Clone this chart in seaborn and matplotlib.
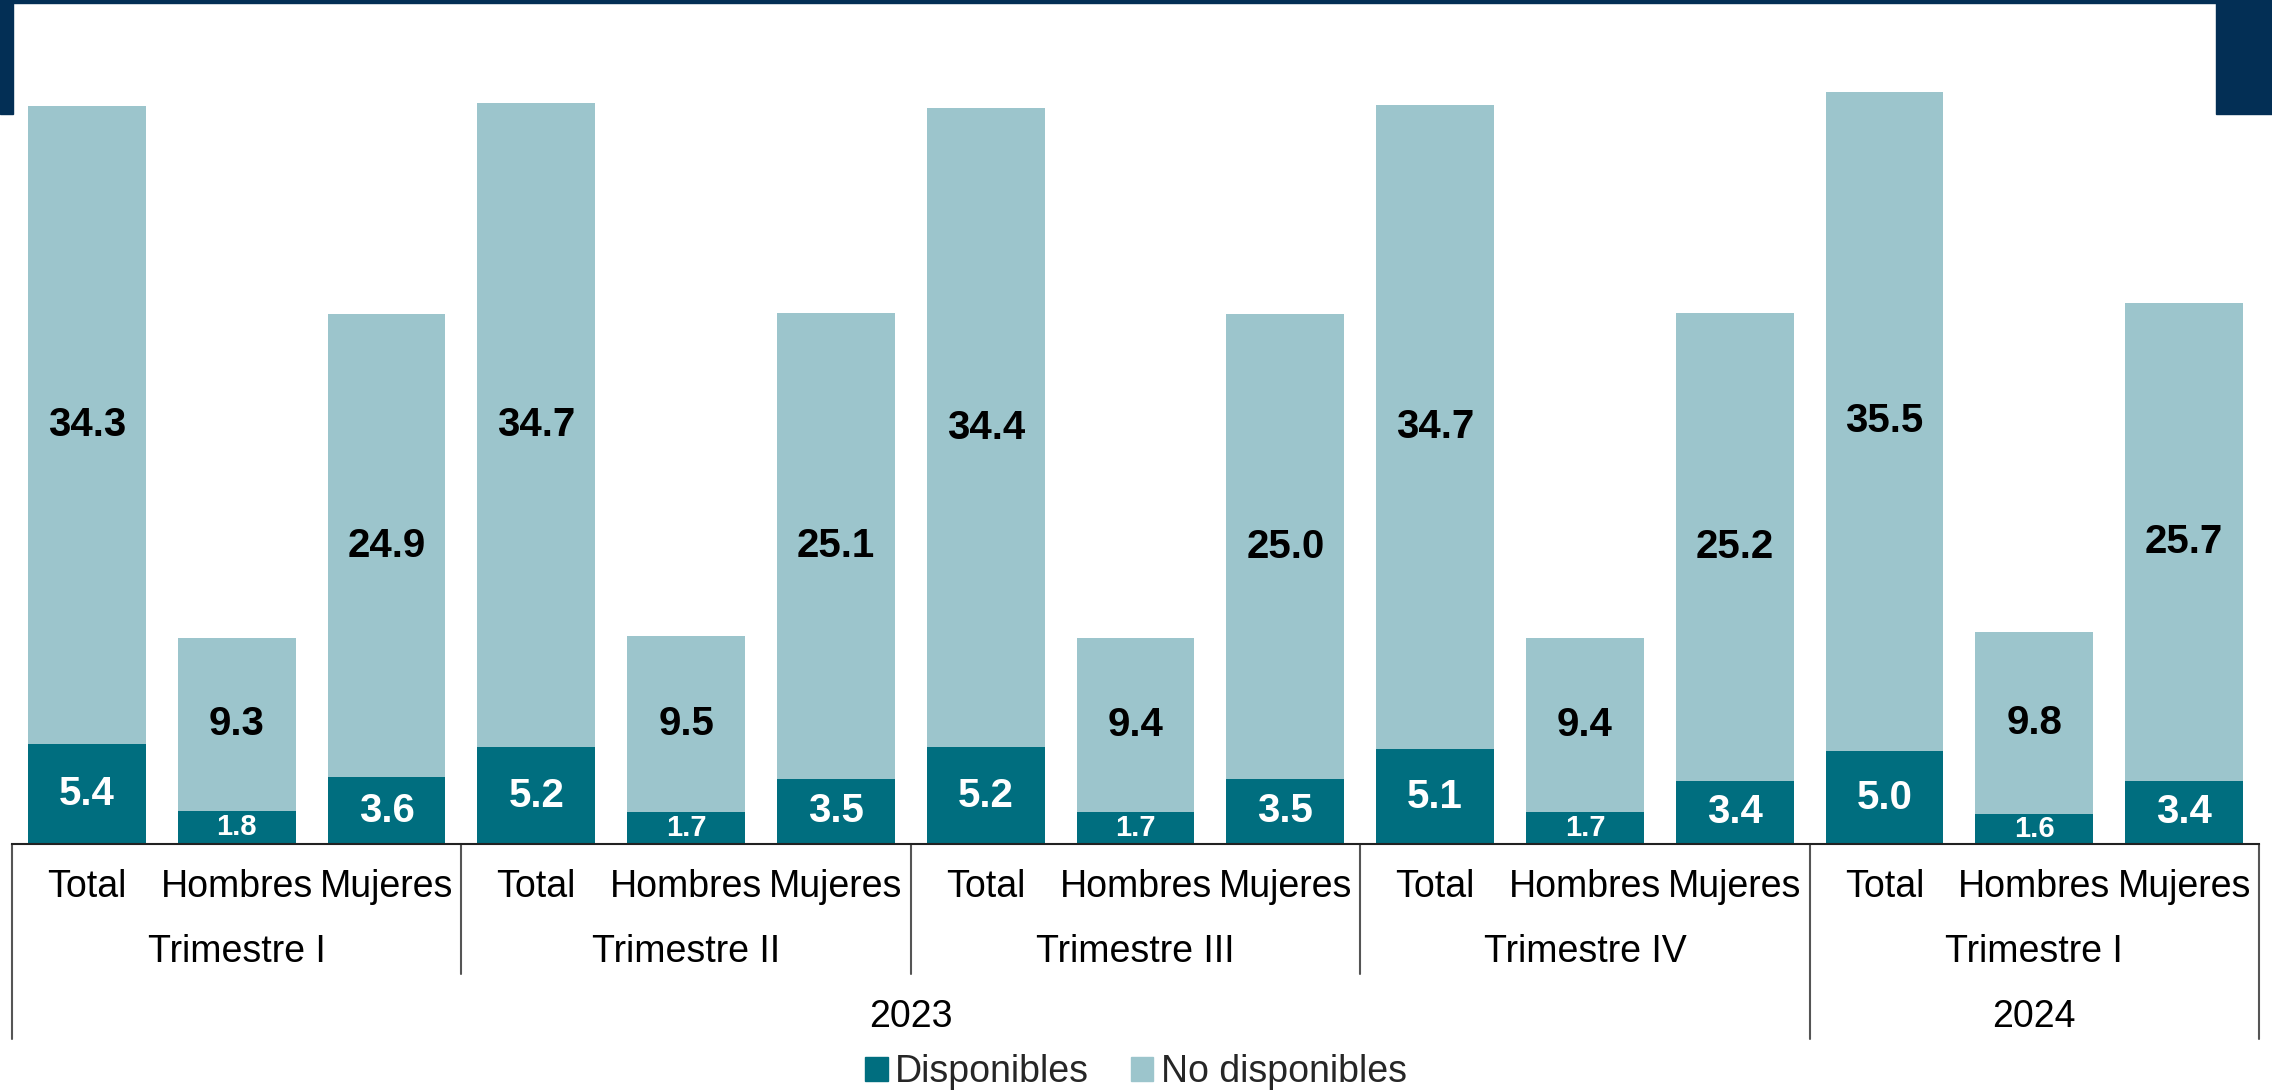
import matplotlib
matplotlib.use("Agg")
import matplotlib.pyplot as plt
import matplotlib.patches as mpatches
import matplotlib.transforms as mtransforms
import seaborn as sns
import pandas as pd

# Datos
anios = ["2023", "2023", "2023", "2023", "2024"]
trimestres = ["Trimestre I", "Trimestre II", "Trimestre III", "Trimestre IV", "Trimestre I"]
categorias = ["Total", "Hombres", "Mujeres"]

disponibles = [5.4, 1.8, 3.6,
               5.2, 1.7, 3.5,
               5.2, 1.7, 3.5,
               5.1, 1.7, 3.4,
               5.0, 1.6, 3.4]
no_disponibles = [34.3, 9.3, 24.9,
                  34.7, 9.5, 25.1,
                  34.4, 9.4, 25.0,
                  34.7, 9.4, 25.2,
                  35.5, 9.8, 25.7]

COLOR_DISP = "#006E7F"
COLOR_NODISP = "#9CC5CC"
COLOR_NAVY = "#032F55"
COLOR_LINEA = "#555555"

# Armar tabla
filas = []
for i, (anio, trim) in enumerate(zip(anios, trimestres)):
    for j, cat in enumerate(categorias):
        k = i * 3 + j
        filas.append({
            "clave": f"{anio}|{i}|{cat}",
            "anio": anio,
            "trimestre": trim,
            "categoria": cat,
            "disponibles": disponibles[k],
            "no_disponibles": no_disponibles[k],
        })
df = pd.DataFrame(filas)
df["total"] = df["disponibles"] + df["no_disponibles"]
orden = list(df["clave"])

sns.set_style("white")
plt.rcParams["font.family"] = ["Liberation Sans", "DejaVu Sans"]

W, H = 2272, 1091
fig = plt.figure(figsize=(W / 100, H / 100), dpi=100)
x0, x1, base = 12, 2259, 844
ax = fig.add_axes([x0 / W, (H - base) / H, (x1 - x0) / W, base / H])

# Barras apiladas: total (claro) y disponibles (oscuro) encima
sns.barplot(data=df, x="clave", y="total", order=orden, color=COLOR_NODISP,
            saturation=1, width=0.786, linewidth=0, ax=ax)
sns.barplot(data=df, x="clave", y="disponibles", order=orden, color=COLOR_DISP,
            saturation=1, width=0.786, linewidth=0, ax=ax)

ax.set_xlim(-0.5, len(orden) - 0.5)
ax.set_ylim(0, base / 18.58)
ax.set_xlabel("")
ax.set_ylabel("")
ax.set_xticks([])
ax.set_yticks([])
for s in ["top", "left", "right"]:
    ax.spines[s].set_visible(False)
ax.spines["bottom"].set_color("#222222")
ax.spines["bottom"].set_linewidth(1.5)

# Etiquetas de valores
for idx, fila in df.iterrows():
    d = fila["disponibles"]
    n = fila["no_disponibles"]
    ax.text(idx, d + n / 2, f"{n:.1f}", ha="center", va="center",
            fontsize=29, fontweight="bold", color="black")
    ax.text(idx, d / 2, f"{d:.1f}", ha="center", va="center",
            fontsize=21 if d < 2 else 29, fontweight="bold", color="white")

# Eje de categorias jerarquico
trans = mtransforms.blended_transform_factory(ax.transData, ax.transAxes)
y_cat = -(887 - base) / base
y_trim = -(952 - base) / base
y_anio = -(1017 - base) / base
y_sep_trim = -(974 - base) / base
y_sep_anio = -(1039 - base) / base

for idx, fila in df.iterrows():
    ax.text(idx, y_cat, fila["categoria"], transform=trans, ha="center",
            va="center", fontsize=27, color="black")

for i, trim in enumerate(trimestres):
    ax.text(i * 3 + 1, y_trim, trim, transform=trans, ha="center",
            va="center", fontsize=27, color="black")

anios_unicos = sorted(set(anios))
for anio in anios_unicos:
    pos = [k for k, a in enumerate(df["anio"]) if a == anio]
    centro = (min(pos) + max(pos)) / 2
    ax.text(centro, y_anio, anio, transform=trans, ha="center",
            va="center", fontsize=27, color="black")

# Separadores
limites_anio = [-0.5]
for k in range(1, len(df)):
    if df["anio"][k] != df["anio"][k - 1]:
        limites_anio.append(k - 0.5)
limites_anio.append(len(df) - 0.5)
limites_trim = [i * 3 - 0.5 for i in range(1, len(trimestres))]
for xs in limites_trim:
    if xs not in limites_anio:
        ax.plot([xs, xs], [0, y_sep_trim], transform=trans, color=COLOR_LINEA,
                lw=1.5, clip_on=False)
for xs in limites_anio:
    ax.plot([xs, xs], [0, y_sep_anio], transform=trans, color=COLOR_LINEA,
            lw=1.5, clip_on=False)

# Leyenda
handles = [mpatches.Patch(color=COLOR_DISP, label="Disponibles"),
           mpatches.Patch(color=COLOR_NODISP, label="No disponibles")]
fig.legend(handles=handles, loc="center", bbox_to_anchor=(0.5, (H - 1072) / H),
           ncol=2, frameon=False, fontsize=27, handlelength=0.6,
           handleheight=0.6, handletextpad=0.2, columnspacing=1.1,
           borderpad=0)

# Marco decorativo azul oscuro
fig.patches.append(mpatches.Rectangle((0, 1 - 3 / H), 1, 3 / H, transform=fig.transFigure,
                                      color=COLOR_NAVY, zorder=5))
fig.patches.append(mpatches.Rectangle((0, 1 - 114 / H), 13 / W, 114 / H, transform=fig.transFigure,
                                      color=COLOR_NAVY, zorder=5))
fig.patches.append(mpatches.Rectangle((2216 / W, 1 - 114 / H), 56 / W, 114 / H, transform=fig.transFigure,
                                      color=COLOR_NAVY, zorder=5))

fig.savefig("out.png", dpi=100, facecolor="white")
